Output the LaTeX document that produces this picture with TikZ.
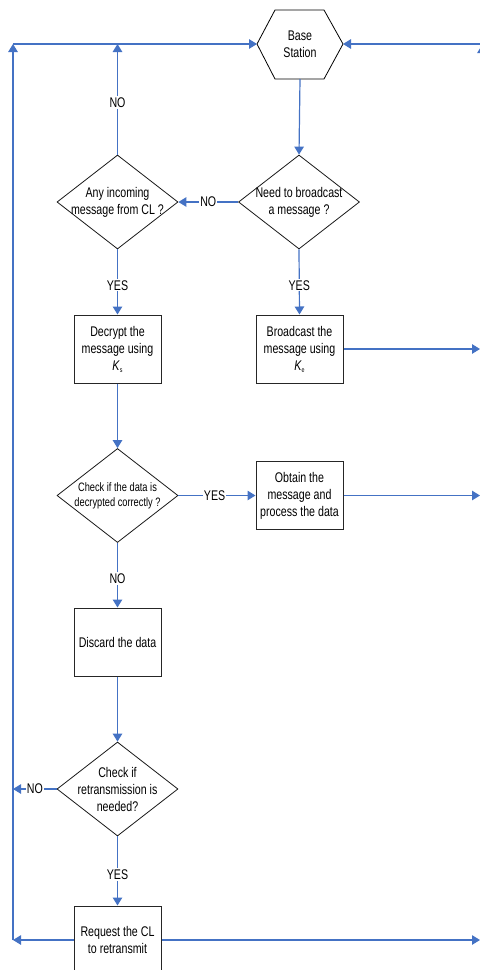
\documentclass[tikz,border=0pt]{standalone}
\usepackage{fontspec}
\setmainfont{Liberation Sans}[FakeStretch=0.76]
\usetikzlibrary{arrows.meta,shapes.geometric}
\definecolor{lnblue}{RGB}{68,114,196}
\newcommand\mainfnt{\fontsize{14bp}{17bp}\selectfont}
\newcommand\smallfnt{\fontsize{12.2bp}{15bp}\selectfont}
\newcommand\keysub[1]{{\itshape K}\kern0.3bp\raisebox{-2bp}{\fontsize{7bp}{7bp}\selectfont #1}}
\begin{document}
\begin{tikzpicture}[x=1bp,y=-1bp,
  flow/.style={draw=lnblue, line width=1.2bp, -{Triangle[length=8bp,width=9.5bp]}},
  box/.style={draw=black!85, line width=1bp, minimum width=87bp, minimum height=68bp, align=center, inner sep=0, font=\mainfnt},
  dia/.style={draw=black!90, shape=diamond, minimum width=121bp, minimum height=94bp, inner sep=0, line width=0.8bp},
  txt/.style={align=center, inner sep=0, font=\mainfnt},
  lbl/.style={fill=white, inner sep=1.2bp, font=\mainfnt}]
\useasboundingbox (0,0) rectangle (480,970);
\clip (0,0) rectangle (480,970);

% edges of the page
\coordinate (ledge) at (13,0);
\coordinate (redge) at (480,0);
\coordinate (ltop) at (13,44);
\coordinate (rmid) at (482,44);
\coordinate (rtop) at (482,45);
\coordinate (rbot) at (482,960);

% hexagon
\coordinate (hexL) at (257,44);
\coordinate (hexR) at (343,44);
\coordinate (hexB) at (300,79);
\draw[line width=0.8bp] (hexL) -- (275,10) -- (324,10) -- (hexR) -- (324,79) -- (275,79) -- cycle;
\node[txt] (hex) at (300,44.5) {Base\\Station};

% decisions
\node[dia] (d1) at (117.5,202) {};
\node[txt] at (d1) {Any incoming\\message from CL ?};
\node[dia] (d2) at (299,202) {};
\node[txt] at (d2) {Need to broadcast\\a message ?};
\node[dia] (d3) at (117.5,495.5) {};
\node[txt,font=\smallfnt] at (d3) {Check if the data is\\decrypted correctly ?};
\node[dia] (d4) at (117.5,789) {};
\node[txt] at (d4) {Check if\\retransmission is\\needed?};

% boxes
\node[box] (b1) at (117.5,349) {Decrypt the\\message using\\\keysub{s}};
\node[box] (b2) at (299.5,349) {Broadcast the\\message using\\\keysub{e}};
\node[box] (b3) at (299.5,495.5) {Obtain the\\message and\\process the data};
\node[box] (b4) at (117.5,642) {Discard the data};
\node[box] (b5) at (117.5,940) {Request the CL\\to retransmit};

% connectors
\draw[flow] (hexB) -- (d2.north);
\draw[flow] (d2.west) -- node[lbl]{NO} (d1.east);
\draw[flow] (d1.north) -- node[lbl,pos=0.47]{NO} (d1.north |- ltop);
\draw[flow] (ltop) -- (hexL);
\draw[flow] (rmid) -- (hexR);
\draw[flow] (rbot) -- (rtop);
\draw[flow] (d1.south) -- node[lbl,pos=0.55]{YES} (b1.north);
\draw[flow] (d2.south) -- node[lbl,pos=0.55]{YES} (b2.north);
\draw[flow] (b2.east) -- (b2.east -| redge);
\draw[flow] (b1.south) -- (d3.north);
\draw[flow] (d3.east) -- node[lbl,pos=0.47]{YES} (b3.west);
\draw[flow] (b3.east) -- (b3.east -| redge);
\draw[flow] (d3.south) -- node[lbl,pos=0.55]{NO} (b4.north);
\draw[flow] (b4.south) -- (d4.north);
\draw[flow] (d4.west) -- node[lbl]{NO} (d4.west -| ledge);
\draw[flow] (d4.south) -- node[lbl,pos=0.55]{YES} (b5.north);
\draw[flow] (b5.west) -- (b5.west -| ledge);
\draw[flow] (b5.east) -- (b5.east -| redge);
\draw[flow] (b5.west -| ledge) -- (ltop);
\end{tikzpicture}
\end{document}
